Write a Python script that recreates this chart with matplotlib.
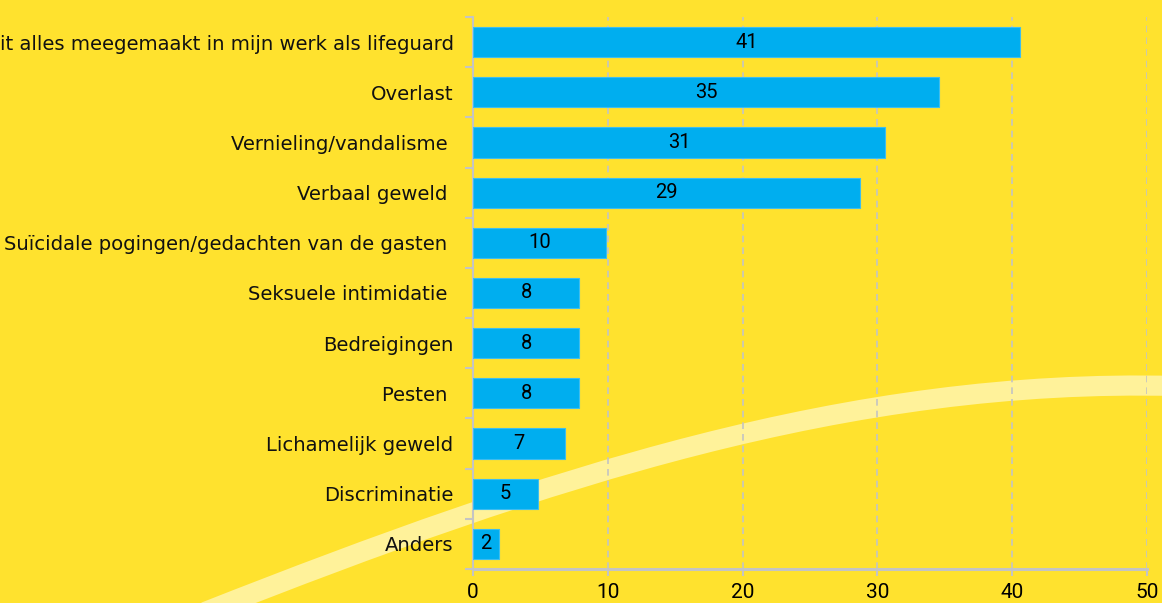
import numpy as np
import matplotlib
matplotlib.use("Agg")
import matplotlib.pyplot as plt
from matplotlib.path import Path
from matplotlib.patches import PathPatch

# gegevens (van boven naar onder)
categorieen = [
    "Niets van dit alles meegemaakt in mijn werk als lifeguard",
    "Overlast",
    "Vernieling/vandalisme ",
    "Verbaal geweld ",
    "Suïcidale pogingen/gedachten van de gasten ",
    "Seksuele intimidatie ",
    "Bedreigingen",
    "Pesten ",
    "Lichamelijk geweld",
    "Discriminatie",
    "Anders",
]
waarden = [40.6, 34.6, 30.6, 28.7, 9.9, 7.9, 7.9, 7.9, 6.8, 4.8, 1.9]
x_ticks = [0, 10, 20, 30, 40, 50]

geel = "#FFE22E"
blauw = "#00AEEF"
grijs = "#C4C4C4"

W, H = 1162, 603
fig = plt.figure(figsize=(W / 100, H / 100), dpi=100, facecolor=geel)

# decoratieve boog op de achtergrond (pixelcoordinaten, y van boven)
pts = [(205, 612), (550, 476), (850, 378), (1175, 386)]
verts = [(x / W, 1 - y / H) for x, y in pts]
boog = Path(verts, [Path.MOVETO, Path.CURVE4, Path.CURVE4, Path.CURVE4])
fig.patches.append(PathPatch(boog, transform=fig.transFigure, facecolor="none",
                             edgecolor="#FFF29A", lw=14.5, zorder=0,
                             capstyle="butt"))

ax = fig.add_axes([473 / W, 1 - 569 / H, (1147 - 473) / W, (569 - 17) / H])
ax.set_facecolor("none")
ax.set_zorder(2)

y = np.arange(len(categorieen))
bars = ax.barh(y, waarden, height=0.6, color=blauw, edgecolor="#3DBDEF",
               linewidth=0.8, zorder=3)

for b, v in zip(bars, waarden):
    ax.text(b.get_width() / 2, b.get_y() + b.get_height() / 2, f"{round(v)}",
            ha="center", va="center", fontsize=14.5, family="Roboto",
            color="black", zorder=4)

ax.set_ylim(len(categorieen) - 0.5, -0.5)
ax.set_xlim(0, 50)
ax.set_yticks(y)
ax.set_yticklabels(categorieen, fontsize=14.1, color="#111111")
ax.set_yticks(np.arange(-0.5, len(categorieen), 1), minor=True)
ax.tick_params(axis="y", which="major", length=0, pad=14)
ax.tick_params(axis="y", which="minor", length=6, width=1.5, color=grijs)

ax.set_xticks(x_ticks)
ax.set_xticklabels([str(t) for t in x_ticks], fontsize=15, family="Roboto")
ax.tick_params(axis="x", length=5, width=1.5, color=grijs, pad=5)

ax.grid(axis="x", color=grijs, linestyle=(0, (4, 3)), linewidth=1.2, zorder=1)
ax.set_axisbelow(True)

for s in ["top", "right"]:
    ax.spines[s].set_visible(False)
ax.spines["left"].set_color(grijs)
ax.spines["left"].set_linewidth(1.5)
ax.spines["bottom"].set_color(grijs)
ax.spines["bottom"].set_linewidth(2.2)

fig.savefig("out.png", dpi=100, facecolor=geel)
